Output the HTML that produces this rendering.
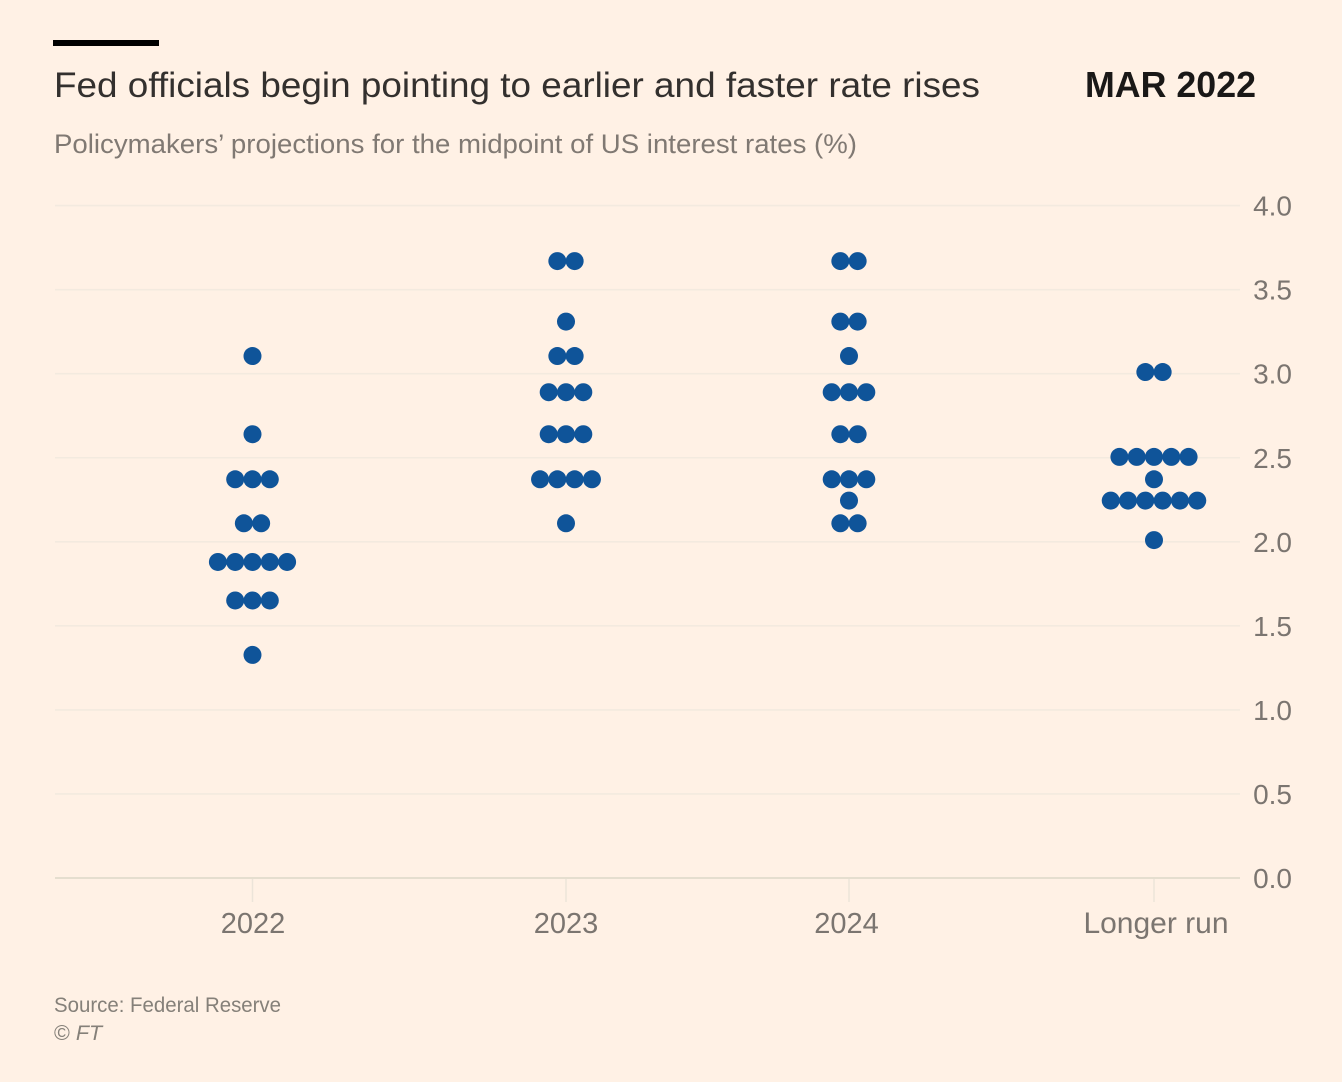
<!DOCTYPE html>
<html lang="en">
<head>
<meta charset="utf-8">
<title>Fed officials begin pointing to earlier and faster rate rises</title>
<style>
html,body{margin:0;padding:0;background:#fff1e5;}
#chart{display:block;}
text{font-family:"Liberation Sans",sans-serif;}
</style>
</head>
<body>
<svg id="chart" width="1342" height="1082" viewBox="0 0 1342 1082" xmlns="http://www.w3.org/2000/svg">
  <rect x="0" y="0" width="1342" height="1082" fill="#fff1e5"/>
  <rect x="53" y="40" width="106" height="6" fill="#000"/>
  <text x="54" y="97" font-size="35" fill="#33302e" textLength="926" lengthAdjust="spacingAndGlyphs">Fed officials begin pointing to earlier and faster rate rises</text>
  <text x="1085" y="97" font-size="36" font-weight="700" fill="#1a1817" textLength="171" lengthAdjust="spacingAndGlyphs">MAR 2022</text>
  <text x="54" y="153" font-size="27" fill="#807973" textLength="803" lengthAdjust="spacingAndGlyphs">Policymakers’ projections for the midpoint of US interest rates (%)</text>
  <g id="grid"></g>
  <g id="xaxis"></g>
  <g id="dots"></g>
  <text x="54" y="1012" font-size="21.5" fill="#858079" textLength="227" lengthAdjust="spacingAndGlyphs">Source: Federal Reserve</text>
  <text x="54" y="1040" font-size="21.5" fill="#858079">© <tspan font-style="italic">FT</tspan></text>
</svg>
<script>
const yTicks = [0, 0.5, 1, 1.5, 2, 2.5, 3, 3.5, 4];
const yTickLabels = ['0.0', '0.5', '1.0', '1.5', '2.0', '2.5', '3.0', '3.5', '4.0'];
const categories = ['2022', '2023', '2024', 'Longer run'];
const rates2022 = [3.105, 2.64, 2.372, 2.11, 1.88, 1.651, 1.327];
const counts2022 = [1, 1, 3, 2, 5, 3, 1];
const rates2023 = [3.67, 3.31, 3.105, 2.89, 2.64, 2.372, 2.11];
const counts2023 = [2, 1, 2, 3, 3, 4, 1];
const rates2024 = [3.67, 3.31, 3.105, 2.89, 2.64, 2.372, 2.245, 2.11];
const counts2024 = [2, 2, 1, 3, 2, 3, 1, 2];
const ratesLonger = [3.01, 2.505, 2.372, 2.245, 2.01];
const countsLonger = [2, 5, 1, 6, 1];
const seriesRates = [rates2022, rates2023, rates2024, ratesLonger];
const seriesCounts = [counts2022, counts2023, counts2024, countsLonger];

const NS = 'http://www.w3.org/2000/svg';
const yScale = v => 878 - v * 168.1;
const bandCenters = { '2022': 252.5, '2023': 566, '2024': 849, 'Longer run': 1154 };
const labelCenters = { '2022': 253, '2023': 566, '2024': 846.5, 'Longer run': 1156 };
const xScale = c => bandCenters[c];
const dotStep = 17.3;
const dotRadius = 9;

function make(tag, attrs, parent) {
  const el = document.createElementNS(NS, tag);
  for (const k in attrs) el.setAttribute(k, attrs[k]);
  parent.appendChild(el);
  return el;
}

const grid = document.getElementById('grid');
yTicks.forEach((t, i) => {
  const line = make('line', { x1: 55, x2: 1240, y1: yScale(t), y2: yScale(t), stroke: t === 0 ? '#e5decf' : '#f3eadf', 'stroke-width': t === 0 ? 2 : 1.6 }, grid);
  
  
  const label = make('text', { x: 1292, y: yScale(t) + 10, 'text-anchor': 'end', 'font-size': 28, fill: '#7b7570' }, grid);
  label.textContent = yTickLabels[i];
  
  
});

const xaxis = document.getElementById('xaxis');
categories.forEach(c => {
  const tick = make('line', { x1: xScale(c), x2: xScale(c), y1: 879, y2: 902, stroke: '#ece4d9', 'stroke-width': 1.5 }, xaxis);
  
  
  const label = make('text', { x: labelCenters[c], y: 933, 'text-anchor': 'middle', 'font-size': c === 'Longer run' ? 30 : 29, fill: '#7b7570' }, xaxis);
  label.textContent = c;
  
  
});

const dots = document.getElementById('dots');
categories.forEach((c, si) => {
  seriesRates[si].forEach((rate, ri) => {
    const n = seriesCounts[si][ri];
    for (let k = 0; k < n; k++) {
      const cx = xScale(c) + (k - (n - 1) / 2) * dotStep;
      const dot = make('circle', { cx: cx, cy: yScale(rate), r: dotRadius, fill: '#0f5499' }, dots);
      
      
    }
  });
});
</script>
</body>
</html>
